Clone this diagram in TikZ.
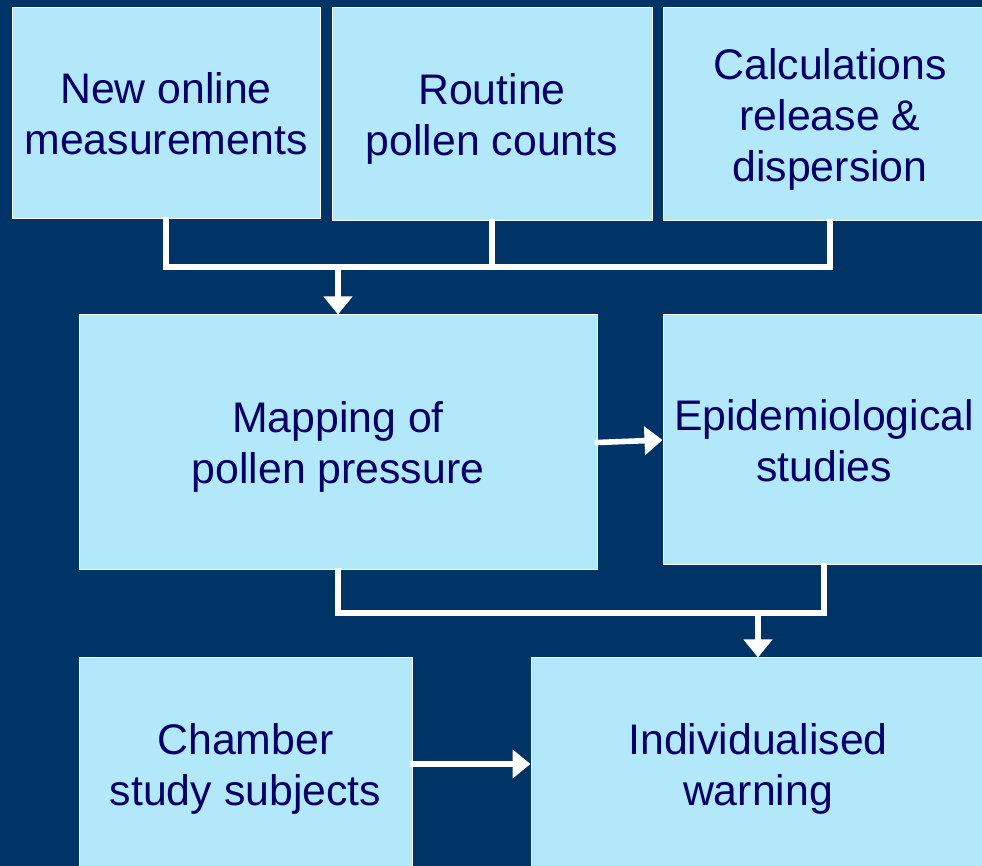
\documentclass[tikz,border=0pt]{standalone}
\usepackage{fontspec}
\setmainfont{Liberation Sans}
\usepackage{tikz}
\usetikzlibrary{arrows.meta}
\definecolor{bgblue}{RGB}{0,51,102}
\definecolor{boxblue}{RGB}{179,232,251}
\definecolor{textnavy}{RGB}{0,0,102}

\begin{document}
\begin{tikzpicture}[x=0.5pt, y=-0.5pt, >={Triangle[length=9pt,width=14pt]}]
\tikzstyle{box}=[draw=white, line width=0.5pt, fill=boxblue, text=textnavy, align=center, inner sep=0pt, font=\fontsize{21.4}{25.5}\selectfont, text depth=0pt]
\tikzstyle{link}=[draw=white, line width=2.8pt, line cap=rect]

% background
\fill[bgblue] (0,0) rectangle (982,866);
\useasboundingbox (0,0) rectangle (982,866);

% Row 1
\node[box, minimum width=154pt, minimum height=105.5pt] (online) at (166,113.5) {New online\\measurements};
\node[box, minimum width=160pt, minimum height=106.5pt] (counts) at (492,114.5) {Routine\\pollen counts};
\node[box, minimum width=167pt, minimum height=106.5pt] (calc) at (830,114.5) {Calculations\\release \&\\dispersion};
% Row 2
\node[box, minimum width=259pt, minimum height=127.5pt] (mapping) at (338,442.5) {Mapping of\\pollen pressure};
\node[box, minimum width=161pt, minimum height=125pt] (epi) at (824,440) {Epidemiological\\studies};
% Row 3
\node[box, minimum width=166.5pt, minimum height=106pt] (chamber) at (245.5,764) {Chamber\\study subjects};
\node[box, minimum width=227pt, minimum height=106pt] (warning) at (758,764) {Individualised\\warning};

% Row 1 to mapping
\coordinate (join1) at (338,267);
\foreach \n in {online,counts,calc}
  \draw[link] (\n.south) |- (join1);
\draw[link, ->] (join1) -- (mapping.north);

% mapping to epi
\draw[link, ->] (mapping.east) -- (epi.west);

% Row 2 to warning
\coordinate (join2) at (758,613);
\foreach \n in {mapping,epi}
  \draw[link] (\n.south) |- (join2);
\draw[link, ->] (join2) -- (warning.north);

% chamber to warning
\draw[link, ->] (chamber.east) -- (warning.west);
\end{tikzpicture}
\end{document}
